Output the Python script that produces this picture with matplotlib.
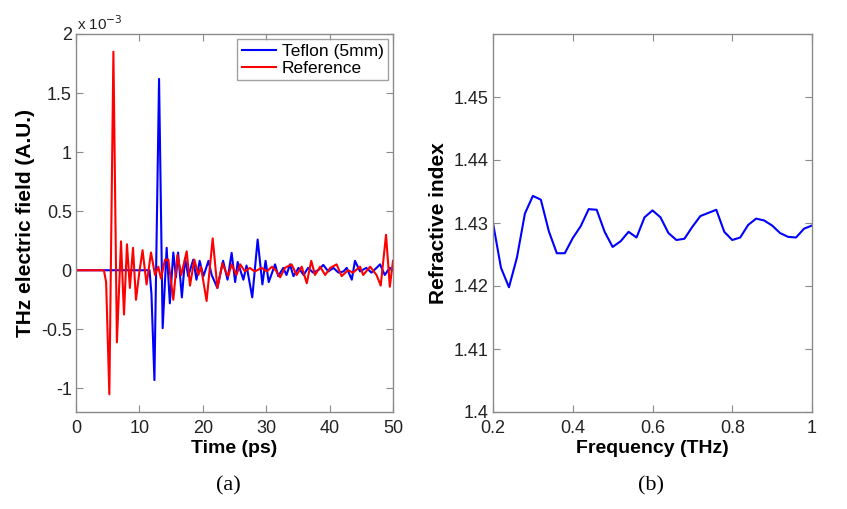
import matplotlib
matplotlib.use("Agg")
import matplotlib.pyplot as plt
from matplotlib.ticker import ScalarFormatter

plt.rcParams['font.family'] = ['Liberation Sans', 'DejaVu Sans']

# ---- Panel (a): time-domain THz signals (values in units of 1e-3) ----
ref_t = [0, 4.4, 4.75, 5.26, 5.9, 6.45, 7.1, 7.57, 8.04, 8.5, 8.99, 9.46, 9.98,
         10.5, 11.13, 11.83, 12.46, 12.98, 13.4, 14.04, 14.56, 15.35, 16.0, 16.6,
         17.46, 17.98, 18.66, 19.3, 19.7, 20.6, 21.56, 22.3, 23.1, 23.6, 24.0,
         24.55, 25.3, 25.9, 26.65, 27.4, 28.2, 29.3, 30.1, 30.9, 31.5, 32.2,
         32.96, 34.0, 34.8, 35.6, 36.4, 37.1, 37.7, 38.5, 39.3, 40.1, 41.1, 41.9,
         42.9, 43.7, 44.8, 45.3, 46.4, 47.4, 48.06, 48.9, 49.5, 50.0]
ref_v = [0, 0, -0.1, -1.05, 1.85, -0.61, 0.245, -0.375, 0.22, -0.15, 0.19, -0.25, -0.02,
         0.17, -0.12, 0.15, -0.04, 0.03, -0.07, 0.09, 0.09, -0.25, 0.13, -0.04,
         0.16, -0.13, 0.09, -0.04, 0.03, -0.26, 0.27, -0.15, 0.06, -0.01, -0.05,
         0.05, -0.04, 0.05, -0.01, 0.02, -0.01, 0.02, -0.01, 0.03, 0.0, -0.06,
         0.02, 0.05, -0.04, 0.03, -0.11, 0.08, -0.04, 0.03, -0.04, 0.02, 0.05, -0.05,
         0.0, -0.02, 0.03, -0.04, 0.03, -0.04, -0.13, 0.30, -0.14, 0.08]

tef_t = [0, 11.6, 11.9, 12.37, 13.1, 13.67, 14.3, 14.8, 15.35, 15.77, 16.1, 16.7,
         17.2, 17.7, 18.5, 19.0, 19.5, 20.1, 20.9, 21.4, 22.3, 23.2, 23.9, 24.55,
         25.1, 25.5, 26.4, 26.9, 27.8, 28.65, 29.4, 29.9, 30.4, 31.4, 31.9, 32.7,
         33.2, 33.75, 34.3, 35.1, 35.9, 36.6, 37.4, 38.2, 39.0, 39.8, 40.6, 41.4,
         42.2, 42.7, 43.5, 44.0, 44.8, 45.8, 46.6, 47.4, 47.96, 48.7, 49.5, 50.0]
tef_v = [0, 0, -0.2, -0.93, 1.62, -0.49, 0.19, -0.28, 0.15, -0.06, 0.15, -0.23,
         0.10, -0.05, 0.09, -0.08, 0.08, -0.05, 0.08, -0.04, -0.15, 0.08, -0.08, 0.147,
         -0.10, 0.07, -0.08, 0.04, -0.23, 0.26, -0.12, 0.08, -0.10, 0.05, -0.05, 0.02,
         -0.04, 0.05, -0.05, 0.02, -0.04, 0.02, -0.02, 0.0, 0.045, -0.01, 0.02, -0.02,
         -0.01, 0.02, -0.08, 0.08, -0.01, 0.02, -0.02, 0.02, 0.05, -0.04, 0.02, 0.0]

# ---- Panel (b): refractive index ----
freq = [0.20, 0.22, 0.24, 0.26, 0.28, 0.30, 0.32, 0.34, 0.36, 0.38, 0.40, 0.42,
        0.44, 0.46, 0.48, 0.50, 0.52, 0.54, 0.56, 0.58, 0.60, 0.62, 0.64, 0.66,
        0.68, 0.70, 0.72, 0.74, 0.76, 0.78, 0.80, 0.82, 0.84, 0.86, 0.88, 0.90,
        0.92, 0.94, 0.96, 0.98, 1.00]
n_idx = [1.4300, 1.4229, 1.4198, 1.4245, 1.4315, 1.4343, 1.4337, 1.4287, 1.4252,
         1.4252, 1.4276, 1.4295, 1.4322, 1.4321, 1.4286, 1.4262, 1.4271, 1.4286,
         1.4277, 1.4309, 1.4320, 1.4309, 1.4284, 1.4273, 1.4275, 1.4294, 1.4311,
         1.4316, 1.4321, 1.4286, 1.4273, 1.4277, 1.4297, 1.4307, 1.4304, 1.4296,
         1.4284, 1.4278, 1.4277, 1.4291, 1.4296]

time_ticks = [0, 10, 20, 30, 40, 50]
field_ticks = [-1, -0.5, 0, 0.5, 1, 1.5, 2]
freq_ticks = [0.2, 0.4, 0.6, 0.8, 1.0]
n_ticks = [1.40, 1.41, 1.42, 1.43, 1.44, 1.45]

W, H = 847, 509
fig = plt.figure(figsize=(W / 100, H / 100), dpi=100)

axcol = '#8a8a8a'
def style(ax):
    for s in ax.spines.values():
        s.set_color(axcol)
        s.set_linewidth(1.0)
    ax.tick_params(direction='in', top=True, right=True, length=5, width=0.8,
                   color=axcol, labelsize=13, labelcolor='#222222')
    ax.tick_params(axis='y', pad=3)
    ax.tick_params(axis='x', pad=6)

ax1 = fig.add_axes([76 / W, 1 - 412 / H, 317 / W, 378 / H])
scale = 1e-3
ax1.plot(tef_t, [v * scale for v in tef_v], color='#0000ff', lw=1.5, label='Teflon (5mm)')
ax1.plot(ref_t, [v * scale for v in ref_v], color='#ff0000', lw=1.5, label='Reference')
ax1.set_xlim(0, 50)
ax1.set_ylim(-1.2e-3, 2e-3)
ax1.set_xticks(time_ticks)
ax1.set_yticks([v * scale for v in field_ticks])
fmt = ScalarFormatter(useMathText=False)
fmt.set_powerlimits((-3, -3))
ax1.yaxis.set_major_formatter(fmt)
ax1.yaxis.get_offset_text().set_visible(False)
ax1.set_yticklabels([('%g' % v) for v in field_ticks])
ax1.text(0.003, 1.003, 'x 10$^{-3}$', transform=ax1.transAxes, fontsize=11,
         ha='left', va='bottom', color='#222222')
style(ax1)
ax1.set_xlabel('Time (ps)', fontsize=14, fontweight='bold', labelpad=2)
ax1.set_ylabel('THz electric field (A.U.)', fontsize=15, fontweight='bold', labelpad=4)
leg = ax1.legend(loc='upper right', fontsize=12.5, frameon=True, fancybox=False,
                 handlelength=2.0, handletextpad=0.3, borderpad=0.25,
                 labelspacing=0.1, borderaxespad=0.3)
leg.get_frame().set_edgecolor(axcol)
leg.get_frame().set_linewidth(1.0)

ax2 = fig.add_axes([493 / W, 1 - 412 / H, 319 / W, 378 / H])
ax2.plot(freq, n_idx, color='#0000ff', lw=1.5)
ax2.set_xlim(0.2, 1.0)
ax2.set_ylim(1.40, 1.46)
ax2.set_xticks(freq_ticks)
ax2.set_xticklabels(['0.2', '0.4', '0.6', '0.8', '1'])
ax2.set_yticks(n_ticks)
ax2.set_yticklabels(['1.4', '1.41', '1.42', '1.43', '1.44', '1.45'])
style(ax2)
ax2.set_xlabel('Frequency (THz)', fontsize=14, fontweight='bold', labelpad=2)
ax2.set_ylabel('Refractive index', fontsize=15, fontweight='bold', labelpad=4)

fig.text(228 / W, 1 - 486 / H, '(a)', fontsize=16, family=['Liberation Serif', 'DejaVu Serif'],
         ha='center', va='center')
fig.text(651 / W, 1 - 486 / H, '(b)', fontsize=16, family=['Liberation Serif', 'DejaVu Serif'],
         ha='center', va='center')

fig.savefig('out.png', dpi=100, facecolor='white')
